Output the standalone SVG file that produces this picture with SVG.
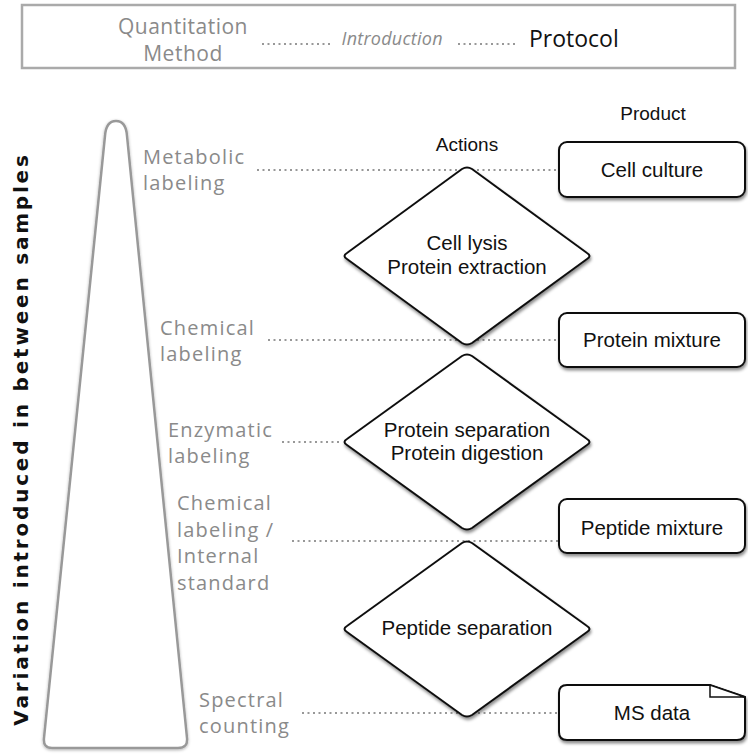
<svg xmlns="http://www.w3.org/2000/svg" width="748" height="754" viewBox="0 0 748 754">
<style>
.lbl{font-family:"Open Sans","DejaVu Sans",sans-serif;font-size:20px;letter-spacing:1.2px;fill:#8a8a8a}
.ar{font-family:"Liberation Sans",Arial,sans-serif;fill:#111;text-anchor:middle}
.dot{stroke:#777;stroke-width:1.6;stroke-dasharray:2 3.5;fill:none}
.node{fill:#fff;stroke:#111;stroke-width:2;filter:url(#sh)}
</style>
<defs>
<filter id="sh" x="-10%" y="-10%" width="130%" height="130%">
<feDropShadow dx="1" dy="2.5" stdDeviation="1.5" flood-color="#000" flood-opacity="0.45"/>
</filter>
<filter id="sh2" x="-10%" y="-10%" width="130%" height="130%">
<feDropShadow dx="0" dy="1" stdDeviation="1.5" flood-color="#000" flood-opacity="0.3"/>
</filter>
</defs>
<rect width="748" height="754" fill="#fff"/>

<g id="legend">
<rect x="22" y="5" width="713" height="63" fill="#fff" stroke="#aaa" stroke-width="2.5"/>
<text x="183" y="34" text-anchor="middle" font-family="'Open Sans','DejaVu Sans',sans-serif" font-size="21" letter-spacing="0.5" fill="#8a8a8a">Quantitation</text>
<text x="183" y="61" text-anchor="middle" font-family="'Open Sans','DejaVu Sans',sans-serif" font-size="21" letter-spacing="0.5" fill="#8a8a8a">Method</text>
<line class="dot" x1="262" y1="44" x2="330" y2="44"/>
<text x="392" y="45" text-anchor="middle" font-family="'Open Sans','DejaVu Sans',sans-serif" font-style="italic" font-size="18" textLength="101" fill="#8a8a8a">Introduction</text>
<line class="dot" x1="458" y1="44" x2="518" y2="44"/>
<text x="529" y="47" font-family="'Open Sans','DejaVu Sans',sans-serif" font-size="23" fill="#111">Protocol</text>
</g>

<g id="wedge">
<path d="M105,136 Q106,121 116,121 Q126,121 127,136 L187,738 Q188,748 178,748 L52,748 Q43,748 44,738 Z" fill="#fff" stroke="#999" stroke-width="2.5" filter="url(#sh2)"/>
<text transform="translate(28,439) rotate(-90)" text-anchor="middle" font-family="'DejaVu Sans',sans-serif" font-weight="bold" font-size="20" letter-spacing="2.8" fill="#111">Variation introduced in between samples</text>
</g>

<g id="labels">
<text class="lbl" x="143" y="164">Metabolic</text>
<text class="lbl" x="143" y="190">labeling</text>
<text class="lbl" x="160" y="335">Chemical</text>
<text class="lbl" x="160" y="361">labeling</text>
<text class="lbl" x="168" y="437">Enzymatic</text>
<text class="lbl" x="168" y="463">labeling</text>
<text class="lbl" x="177" y="510">Chemical</text>
<text class="lbl" x="177" y="537">labeling /</text>
<text class="lbl" x="177" y="563">Internal</text>
<text class="lbl" x="177" y="590">standard</text>
<text class="lbl" x="199" y="707">Spectral</text>
<text class="lbl" x="199" y="733">counting</text>
</g>

<g id="connectors">
<line class="dot" x1="257" y1="170" x2="559" y2="170"/>
<line class="dot" x1="268" y1="340" x2="559" y2="340"/>
<line class="dot" x1="282" y1="442" x2="342" y2="442"/>
<line class="dot" x1="292" y1="541" x2="559" y2="541"/>
<line class="dot" x1="302" y1="713" x2="559" y2="713"/>
</g>

<text class="ar" x="467" y="151" font-size="19">Actions</text>
<text class="ar" x="653" y="120" font-size="19">Product</text>

<g id="d1">
<path class="node" d="M462,169 Q467,166 472,169 L587,253 Q592,256 587,259 L472,343 Q467,346 462,343 L347,259 Q342,256 347,253 Z"/>
<text class="ar" x="467" y="250" font-size="20.5">Cell lysis</text>
<text class="ar" x="467" y="274" font-size="20.5">Protein extraction</text>
</g>
<g id="d2">
<path class="node" d="M462,356 Q467,353 472,356 L587,439 Q592,442 587,445 L472,528 Q467,531 462,528 L347,445 Q342,442 347,439 Z"/>
<text class="ar" x="467" y="437" font-size="20.5">Protein separation</text>
<text class="ar" x="467" y="460" font-size="20.5">Protein digestion</text>
</g>
<g id="d3">
<path class="node" d="M462,543 Q467,540 472,543 L587,626 Q592,629 587,632 L472,715 Q467,718 462,715 L347,632 Q342,629 347,626 Z"/>
<text class="ar" x="467" y="635" font-size="20.5">Peptide separation</text>
</g>

<g id="cell-culture">
<rect class="node" x="559" y="142" width="186" height="55" rx="8"/>
<text class="ar" x="652" y="177" font-size="20.5">Cell culture</text>
</g>
<g id="protein-mixture">
<rect class="node" x="559" y="313" width="186" height="54" rx="8"/>
<text class="ar" x="652" y="347" font-size="20.5">Protein mixture</text>
</g>
<g id="peptide-mixture">
<rect class="node" x="559" y="499" width="186" height="54" rx="8"/>
<text class="ar" x="652" y="535" font-size="20.5">Peptide mixture</text>
</g>
<g id="ms-data">
<path class="node" d="M567,685 L710,685 L745,697 L745,732 Q745,740 737,740 L567,740 Q559,740 559,732 L559,693 Q559,685 567,685 Z"/>
<path d="M710,685 L710,697 L745,697 Z" fill="#fff" stroke="#111" stroke-width="1.5"/>
<text class="ar" x="652" y="720" font-size="20.5">MS data</text>
</g>
</svg>
